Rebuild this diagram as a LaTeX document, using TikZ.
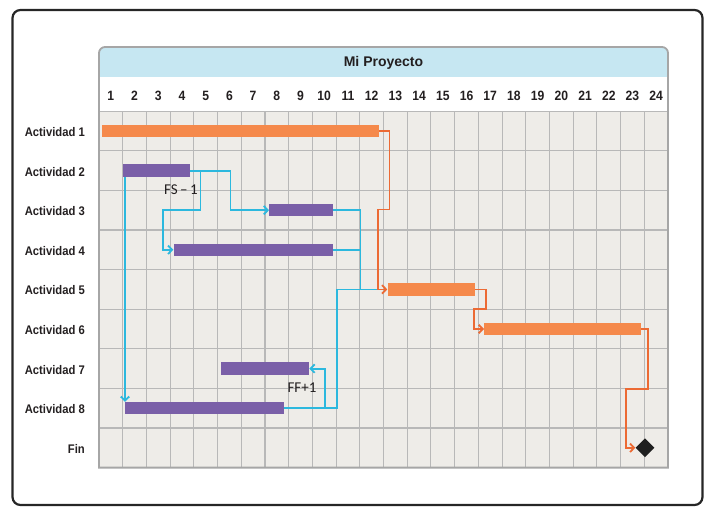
\documentclass[tikz,border=0pt]{standalone}
\usepackage{fontspec}
\setmainfont{Liberation Sans}
\newfontfamily\labfont[FakeStretch=0.9]{Liberation Sans}
\newfontfamily\calfont{Carlito}
\usetikzlibrary{arrows.meta,shapes.geometric}
\definecolor{obarc}{HTML}{F5894B}
\definecolor{olinec}{HTML}{EC6A34}
\definecolor{pbarc}{HTML}{7A5FA8}
\definecolor{blinec}{HTML}{2CB8DE}
\definecolor{hdrc}{HTML}{C6E7F2}
\definecolor{gridbgc}{HTML}{EEECE8}
\definecolor{gridlc}{HTML}{B8B8B8}
\definecolor{panelc}{HTML}{A6A6A6}
\definecolor{txtc}{HTML}{231F20}
\tikzset{
  gridline/.style={draw=gridlc, line width=1.1pt},
  obar/.style={fill=obarc, inner sep=0pt, minimum height=12.5pt, anchor=west},
  pbar/.style={fill=pbarc, inner sep=0pt, minimum height=12.5pt, anchor=west},
  oline/.style={draw=olinec, line width=1.8pt},
  bline/.style={draw=blinec, line width=1.8pt},
  tip/.style={-{Straight Barb[length=4pt,width=8.5pt]}},
  lab/.style={font=\labfont\bfseries\fontsize{12.5}{14}\selectfont, text=txtc, anchor=east, inner sep=0pt},
  num/.style={font=\labfont\bfseries\fontsize{13.5}{15}\selectfont, text=txtc, inner sep=0pt, anchor=base},
  lag/.style={font=\calfont\fontsize{15}{17}\selectfont, text=txtc, inner sep=0pt},
}
\begin{document}
\begin{tikzpicture}[x=1pt,y=-1pt]
\useasboundingbox (0,0) rectangle (716,514);
% outer frame
\draw[line width=2.2pt, rounded corners=8pt, draw=black!85] (12.5,10) rectangle (702.5,505);
% panel backgrounds
\path[fill=hdrc] (99,77) [rounded corners=6pt] -- (99,47) -- (668,47) [sharp corners] -- (668,77) -- cycle;
\fill[white] (99,77) rectangle (668,111.2);
\fill[gridbgc] (99,111.2) rectangle (668,467.6);
\foreach \k in {1,...,23} \draw[gridline] ({99+\k*23.71},111.2) -- ({99+\k*23.71},467.6);
\foreach \k in {0,...,8} \draw[gridline] (99,{111.2+\k*39.6}) -- (668,{111.2+\k*39.6});
\draw[draw=panelc, line width=1.8pt] (99,467.6) [rounded corners=6pt] -- (99,47) -- (668,47) [sharp corners] -- (668,467.6) -- cycle;
% title and numbers
\node[font=\bfseries\fontsize{14}{16}\selectfont, text=txtc, inner sep=0pt] (title) at (383.5,63) {Mi Proyecto};
\foreach \i in {1,...,24} \node[num] (n\i) at ({99+(\i-0.5)*23.71},100.5) {\i};
% activity labels
\foreach \j/\t in {1/Actividad 1,2/Actividad 2,3/Actividad 3,4/Actividad 4,5/Actividad 5,6/Actividad 6,7/Actividad 7,8/Actividad 8,9/Fin}
  \node[lab] (l\j) at (85,{132+(\j-1)*39.6}) {\t};
% bars
\node[obar, minimum width=277.3pt] (a1) at (101.7,131) {};
\node[pbar, minimum width=67.3pt] (a2) at (122.7,170.6) {};
\node[pbar, minimum width=63.7pt] (a3) at (269,210.2) {};
\node[pbar, minimum width=159.4pt] (a4) at (173.3,249.8) {};
\node[obar, minimum width=87.7pt] (a5) at (387.3,289.4) {};
\node[obar, minimum width=156.7pt] (a6) at (484,329) {};
\node[pbar, minimum width=88pt] (a7) at (221,368.6) {};
\node[pbar, minimum width=159pt] (a8) at (125,408.2) {};
\node[diamond, fill=black!88, inner sep=0pt, minimum width=19pt, minimum height=19pt] (fin) at (645,447.8) {};
% blue connectors
\draw[bline, tip] (a8.north west |- a2.south) -- (a8.north west);
\draw[bline, tip] (a2.east) -- ++(40,0) |- (a3.west);
\draw[bline, tip] (a2.east) -- ++(10,0) -- ++(0,39.6) -- ++(-37.7,0) |- (a4.west);
\draw[bline] (a3.east) -- ++(27.3,0) |- (a5.west);
\draw[bline] (a4.east) -- ++(27.3,0);
\draw[bline] (a8.east) -- ++(52.7,0) |- (a5.west);
\draw[bline, tip] (a8.east) -- ++(40.3,0) |- (a7.east);
% orange connectors
\draw[oline, tip] (a1.east) -- ++(10,0) -- ++(0,78.5) -- ++(-11.3,0) |- (a5.west);
\draw[oline, tip] (a5.east) -- ++(10.7,0) -- ++(0,19.6) -- ++(-12.4,0) |- (a6.west);
\draw[oline, tip] (a6.east) -- ++(7,0) -- ++(0,60) -- ++(-22,0) |- (fin.west);
% lag labels
\node[lag] (fs) at (181,190) {FS\,–\,1};
\node[lag] (ff) at (302,388) {FF+1};
\end{tikzpicture}
\end{document}
